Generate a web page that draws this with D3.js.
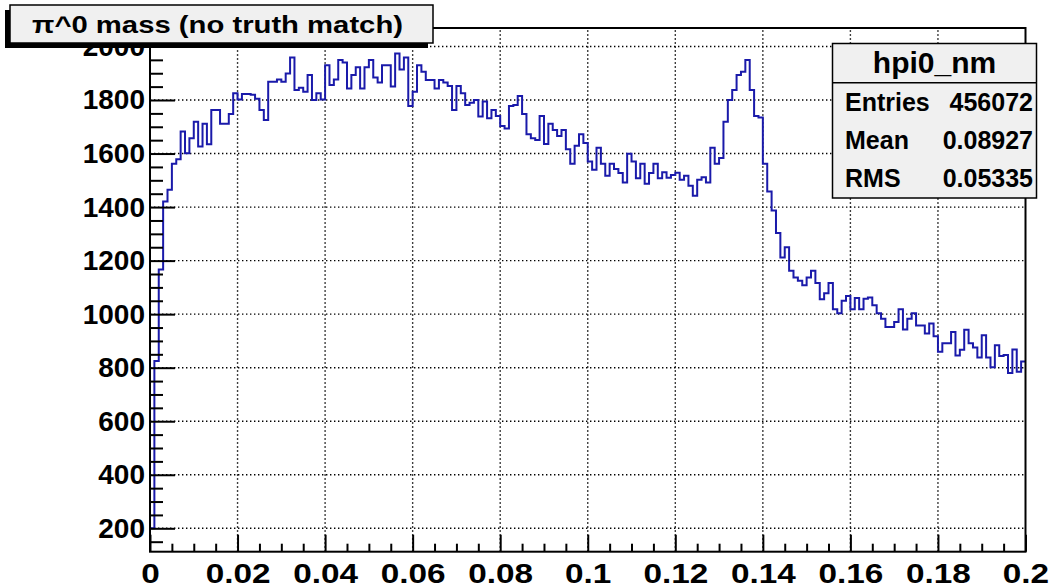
<!DOCTYPE html>
<html>
<head>
<meta charset="utf-8">
<script src="https://cdn.jsdelivr.net/npm/d3@7"></script>
<style>
  html, body { margin: 0; padding: 0; background: #fff; }
  svg { display: block; font-family: "Liberation Sans", Arial, Helvetica, sans-serif; font-weight: bold; }
</style>
</head>
<body>
<svg id="chart" width="1053" height="588"></svg>
<script>
// histogram definition: 200 bins on [0, 0.2]
const nBins = 200, xMin = 0, xMax = 0.2;

// bin contents
const binValues = [
  200, 825, 1167, 1421, 1465, 1562, 1579, 1682, 1601, 1657,
  1719, 1626, 1711, 1635, 1763, 1763, 1711, 1711, 1748, 1825,
  1802, 1822, 1822, 1820, 1805, 1763, 1725, 1868, 1868, 1877,
  1868, 1899, 1959, 1837, 1846, 1831, 1893, 1800, 1825, 1802,
  1930, 1856, 1877, 1949, 1940, 1843, 1893, 1922, 1843, 1922,
  1949, 1884, 1865, 1930, 1930, 1850, 1974, 1914, 1959, 1778,
  1831, 1930, 1906, 1875, 1875, 1843, 1875, 1865, 1852, 1763,
  1852, 1825, 1781, 1790, 1800, 1738, 1794, 1732, 1763, 1740,
  1703, 1694, 1778, 1781, 1815, 1748, 1672, 1657, 1651, 1740,
  1636, 1711, 1688, 1666, 1688, 1616, 1562, 1629, 1672, 1639,
  1570, 1539, 1622, 1562, 1517, 1562, 1542, 1527, 1492, 1599,
  1570, 1508, 1562, 1487, 1527, 1562, 1508, 1530, 1510, 1520,
  1528, 1502, 1517, 1480, 1442, 1502, 1511, 1492, 1622, 1562,
  1583, 1719, 1800, 1837, 1893, 1906, 1949, 1837, 1740, 1735,
  1562, 1458, 1387, 1303, 1212, 1250, 1162, 1137, 1125, 1108,
  1137, 1162, 1116, 1056, 1078, 1116, 1018, 1003, 1050, 1068,
  1018, 1060, 1018, 1058, 1062, 1033, 1003, 983, 952, 952,
  971, 1018, 943, 983, 1003, 958, 958, 928, 965, 917,
  860, 891, 891, 933, 846, 867, 942, 891, 875, 838,
  921, 838, 802, 884, 844, 847, 780, 868, 785, 823
];

const yRange = [112.6, 2069];

const xTickValues = [0, 0.02, 0.04, 0.06, 0.08, 0.1, 0.12, 0.14, 0.16, 0.18, 0.2];
const xTickLabels = ["0", "0.02", "0.04", "0.06", "0.08", "0.1", "0.12", "0.14", "0.16", "0.18", "0.2"];
const yTickValues = [200, 400, 600, 800, 1000, 1200, 1400, 1600, 1800, 2000];
const yTickLabels = ["200", "400", "600", "800", "1000", "1200", "1400", "1600", "1800", "2000"];

const titleText = "\u03c0^0 mass (no truth match)";
const statsName = "hpi0_nm";
const statsLabels = ["Entries", "Mean", "RMS"];
const statsValues = ["456072", "0.08927", "0.05335"];

const svg = d3.select("#chart");
const frame = { left: 150, right: 1025.5, top: 28, bottom: 551.7 };

const x = d3.scaleLinear().domain([xMin, xMax]).range([frame.left, frame.right]);
const y = d3.scaleLinear().domain(yRange).range([frame.bottom, frame.top]);

const binW = (xMax - xMin) / nBins;
const steps = binValues.map((v, i) => [xMin + i * binW, v]);
steps.push([xMax, binValues[binValues.length - 1]]);

// Grid (dotted)
const grid = svg.append("g")
  .attr("stroke", "#000").attr("stroke-width", 1.4).attr("stroke-dasharray", "1.4 2.6");
grid.selectAll("line.gx").data(xTickValues.slice(1, -1)).join("line")
  .attr("x1", d => x(d)).attr("x2", d => x(d))
  .attr("y1", frame.bottom).attr("y2", frame.top);
grid.selectAll("line.gy").data(yTickValues).join("line")
  .attr("x1", frame.left).attr("x2", frame.right)
  .attr("y1", d => y(d)).attr("y2", d => y(d));

// Histogram
const line = d3.line().x(d => x(d[0])).y(d => y(d[1])).curve(d3.curveStepAfter);
svg.append("path").datum(steps)
  .attr("d", line)
  .attr("fill", "none").attr("stroke", "#1a1aaa").attr("stroke-width", 2);

// Axes
function styleAxis(g) {
  g.select(".domain").remove();
  g.selectAll(".tick line").attr("stroke", "#000").attr("stroke-width", 2);
  g.selectAll(".tick text").attr("fill", "#000")
    .style("font-family", '"Liberation Sans", Arial, sans-serif')
    .style("font-weight", "bold").style("font-size", "28px");
}

const yMinor = d3.range(150, yRange[1], 50).filter(v => v % 200 !== 0);
svg.append("g").attr("transform", `translate(${frame.left},0)`)
  .call(d3.axisLeft(y).tickValues(yMinor).tickSize(-13).tickFormat(""))
  .call(styleAxis);
svg.append("g").attr("transform", `translate(${frame.left},0)`)
  .call(d3.axisLeft(y).tickValues(yTickValues).tickSize(-25).tickPadding(5)
    .tickFormat((d, i) => yTickLabels[i]))
  .call(styleAxis);

const xMinor = d3.range(0.005, xMax, 0.005).filter((v, i) => (i + 1) % 4 !== 0);
svg.append("g").attr("transform", `translate(0,${frame.bottom})`)
  .call(d3.axisBottom(x).tickValues(xMinor).tickSize(-8).tickFormat(""))
  .call(styleAxis);
svg.append("g").attr("transform", `translate(0,${frame.bottom})`)
  .call(d3.axisBottom(x).tickValues(xTickValues).tickSize(-17).tickPadding(11)
    .tickFormat((d, i) => xTickLabels[i]))
  .call(styleAxis)
  .call(g => g.selectAll(".tick text").attr("transform", "scale(1.19,1)"));

// Frame
svg.append("rect")
  .attr("x", frame.left).attr("y", frame.top)
  .attr("width", frame.right - frame.left).attr("height", frame.bottom - frame.top)
  .attr("fill", "none").attr("stroke", "#000").attr("stroke-width", 2);

// Stats box
const sb = { x: 832.5, y: 43.5, w: 204, h: 154.5, div: 82.7 };
const stats = svg.append("g");
stats.append("rect").attr("x", sb.x).attr("y", sb.y).attr("width", sb.w).attr("height", sb.h)
  .attr("fill", "#f0f0f0").attr("stroke", "#000").attr("stroke-width", 1.5);
stats.append("line").attr("x1", sb.x).attr("x2", sb.x + sb.w).attr("y1", sb.div).attr("y2", sb.div)
  .attr("stroke", "#000").attr("stroke-width", 1.5);
stats.append("text").attr("x", sb.x + sb.w / 2).attr("y", 73.3)
  .attr("text-anchor", "middle").style("font-size", "30px").text(statsName);
statsLabels.forEach((lab, i) => {
  const by = [111, 149.3, 186.7][i];
  stats.append("text").attr("x", 845).attr("y", by).style("font-size", "25px").text(lab);
  stats.append("text").attr("x", 1033).attr("y", by).attr("text-anchor", "end")
    .style("font-size", "25px").text(statsValues[i]);
});

// Title box with shadow
const tb = { x: 10, y: 5, w: 423, h: 38 };
svg.append("rect").attr("x", tb.x - 5).attr("y", tb.y + 5).attr("width", tb.w).attr("height", tb.h)
  .attr("fill", "#000");
svg.append("rect").attr("x", tb.x).attr("y", tb.y).attr("width", tb.w).attr("height", tb.h)
  .attr("fill", "#f0f0f0").attr("stroke", "#000").attr("stroke-width", 1.5);
svg.append("text").attr("x", 32).attr("y", 33.3)
  .attr("textLength", 371).attr("lengthAdjust", "spacingAndGlyphs")
  .style("font-size", "24px").text(titleText);
</script>
</body>
</html>
